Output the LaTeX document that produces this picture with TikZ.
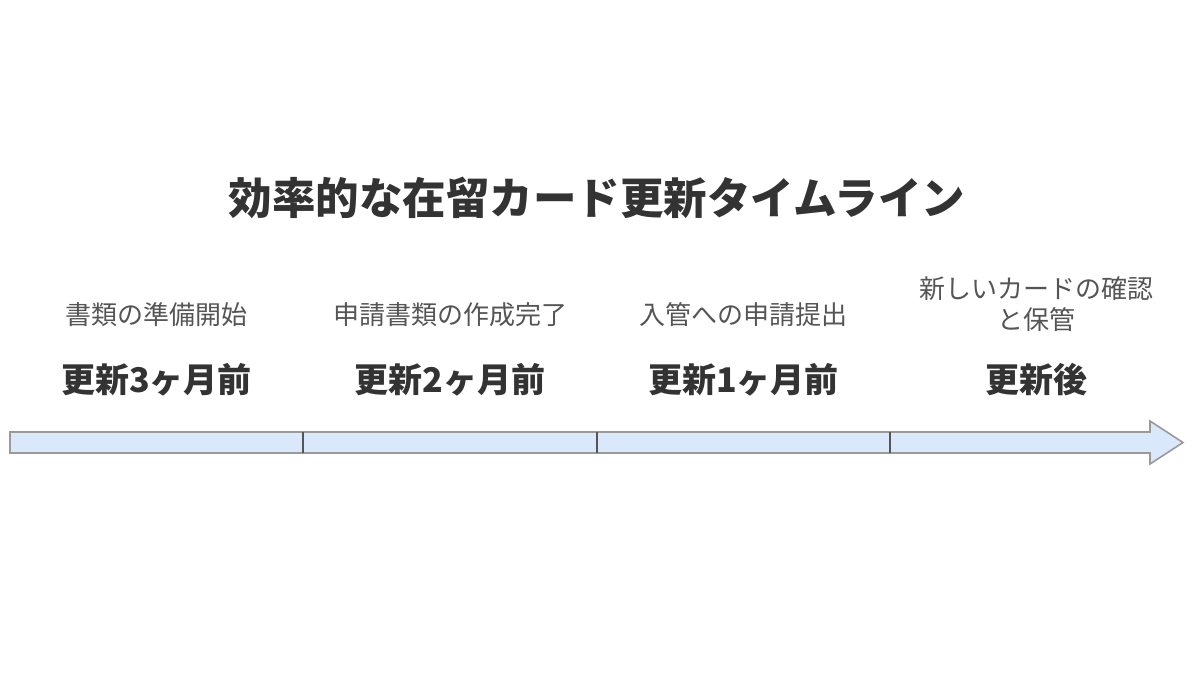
\documentclass[tikz,border=0pt]{standalone}
\usepackage{fontspec}
\setmainfont{Noto Sans CJK JP}
\definecolor{barfill}{HTML}{DAE8FC}
\definecolor{barline}{HTML}{9A9A9A}
\definecolor{divline}{HTML}{555555}
\definecolor{txtdark}{HTML}{333333}
\definecolor{txtsmall}{HTML}{555555}
\tikzset{
  titletext/.style={font=\fontsize{43.5}{48}\selectfont\bfseries, text=txtdark, inner sep=0pt},
  tasktext/.style={font=\fontsize{26}{31}\selectfont, text=txtsmall, inner sep=0pt, align=center},
  whentext/.style={font=\fontsize{34}{38}\selectfont\bfseries, text=txtdark, inner sep=0pt},
  bar/.style={fill=barfill, draw=barline, line width=1.6pt, line join=miter},
  divider/.style={draw=divline, line width=1.8pt}
}
\begin{document}
\begin{tikzpicture}[x=1pt,y=-1pt]
\useasboundingbox (0,0) rectangle (1200,675);
\node[titletext] (title) at (597,198) {効率的な在留カード更新タイムライン};
% timeline arrow
\draw[bar] (10,432) -- (1150,432) -- (1150,421) -- (1183,442.5) -- (1150,464) -- (1150,453) -- (10,453) -- cycle;
\coordinate (d1t) at (303,432); \coordinate (d1b) at (303,453);
\coordinate (d2t) at (597,432); \coordinate (d2b) at (597,453);
\coordinate (d3t) at (890,432); \coordinate (d3b) at (890,453);
\draw[divider] (d1t) -- (d1b);
\draw[divider] (d2t) -- (d2b);
\draw[divider] (d3t) -- (d3b);
% tasks
\node[tasktext] (t1) at (156.5,315) {書類の準備開始};
\node[tasktext] (t2) at (450,315) {申請書類の作成完了};
\node[tasktext] (t3) at (743.5,315) {入管への申請提出};
\node[tasktext] (t4) at (1036,304) {新しいカードの確認\\と保管};
% times
\node[whentext] (w1) at (156.5,380) {更新3ヶ月前};
\node[whentext] (w2) at (450,380) {更新2ヶ月前};
\node[whentext] (w3) at (743.5,380) {更新1ヶ月前};
\node[whentext] (w4) at (1036,380) {更新後};
\end{tikzpicture}
\end{document}
